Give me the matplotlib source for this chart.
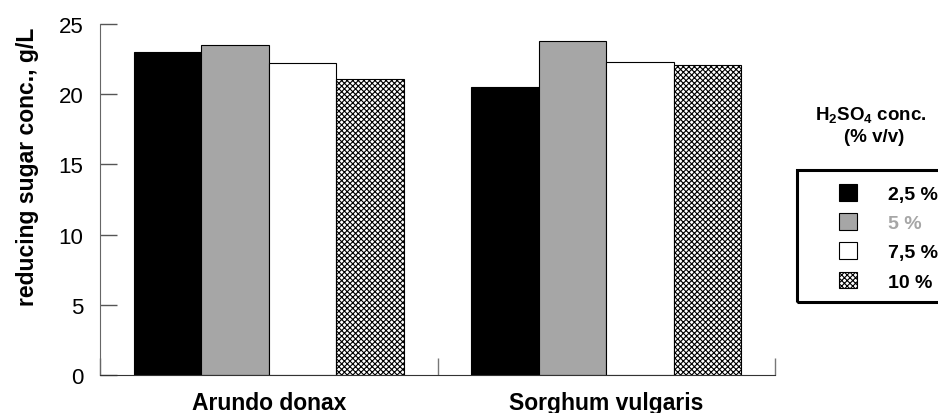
import matplotlib
matplotlib.use("Agg")
import matplotlib.pyplot as plt
import numpy as np
from matplotlib.patches import Patch, Rectangle

plt.rcParams['font.family'] = ['Liberation Sans', 'DejaVu Sans']
plt.rcParams['mathtext.fontset'] = 'custom'
plt.rcParams['mathtext.rm'] = 'Liberation Sans'
plt.rcParams['mathtext.bf'] = 'Liberation Sans:bold'
plt.rcParams['hatch.linewidth'] = 0.8

categories = ["Arundo donax", "Sorghum vulgaris"]
series_labels = ["2,5 %", "5 %", "7,5 %", "10 %"]
values = {
    "2,5 %": [23.0, 20.5],
    "5 %": [23.5, 23.8],
    "7,5 %": [22.2, 22.3],
    "10 %": [21.1, 22.1],
}
colors = ["#000000", "#a6a6a6", "#ffffff", "#ffffff"]
hatches = [None, None, None, "xxxxxx"]
label_colors = ["black", "#a6a6a6", "black", "black"]

W, H = 938, 414
fig = plt.figure(figsize=(W/100, H/100), dpi=100)
ax = fig.add_axes([100/W, 1-376/H, 675/W, (376-25)/H])

x = np.arange(len(categories))
w = 0.2
for i, s in enumerate(series_labels):
    ax.bar(x + (i - 1.5) * w, values[s], width=w, color=colors[i],
           edgecolor="black", linewidth=0.8, hatch=hatches[i])

ax.set_xlim(-0.5, 1.5)
ax.set_ylim(0, 25)
ax.set_yticks([0, 5, 10, 15, 20, 25])
ax.tick_params(axis='y', direction='in', length=12, width=1, color='#555555',
               labelsize=16, pad=12)
ax.set_xticks([-0.5, 0.5, 1.5])
ax.set_xticklabels([])
ax.tick_params(axis='x', direction='in', length=12, width=1, color='#777777')
for i, c in enumerate(categories):
    ax.annotate(c, xy=(x[i], 0), xycoords=('data', 'axes fraction'),
                xytext=(0, -11.5), textcoords='offset points',
                ha='center', va='top', fontsize=16.5, fontweight='bold')
ax.spines['top'].set_visible(False)
ax.spines['right'].set_visible(False)
ax.spines['left'].set_color('#666666')
ax.spines['bottom'].set_color('#333333')

fig.text(28/W, 1-167/H, "reducing sugar conc., g/L", rotation=90,
         ha='center', va='center', fontsize=16.5, fontweight='bold')

# legend frame
fig.patches.append(Rectangle((797/W, 1-303/H), 150/W, 132/H,
                             transform=fig.transFigure, fill=False,
                             edgecolor='black', linewidth=2.2))
handles = [Patch(facecolor=colors[i], edgecolor='black', hatch=hatches[i], linewidth=0.8)
           for i in range(4)]
leg = fig.legend(handles, series_labels, loc='upper left',
                 bbox_to_anchor=(839/W, 1-185/H), frameon=False,
                 handlelength=0.95, handleheight=0.95,
                 prop={'weight': 'bold', 'size': 14}, borderpad=0,
                 labelspacing=0.52, handletextpad=1.55, borderaxespad=0)
for t, c in zip(leg.get_texts(), label_colors):
    t.set_color(c)

fig.text(871/W, 1-116/H, r"H$_\mathbf{2}$SO$_\mathbf{4}$ conc.", ha='center',
         va='center', fontsize=13.5, fontweight='bold')
fig.text(874/W, 1-138/H, "(% v/v)", ha='center',
         va='center', fontsize=13.5, fontweight='bold')

fig.savefig("out.png", dpi=100)
